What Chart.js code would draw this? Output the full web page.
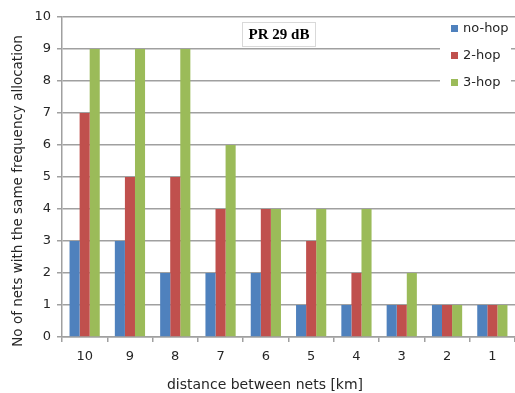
<!DOCTYPE html>
<html>
<head>
<meta charset="utf-8">
<script src="https://cdn.jsdelivr.net/npm/chart.js@4.4.0/dist/chart.umd.min.js"></script>
<style>
  html, body { margin: 0; padding: 0; background: #fff; }
  #wrap { width: 515px; height: 393px; }
</style>
</head>
<body>
<div id="wrap"><canvas id="chart" width="515" height="393"></canvas></div>
<script>
// --- data ---
const distances = ['10', '9', '8', '7', '6', '5', '4', '3', '2', '1'];
const noHop = [3, 3, 2, 2, 2, 1, 1, 1, 1, 1];
const twoHop = [7, 5, 5, 4, 4, 3, 2, 1, 1, 1];
const threeHop = [9, 9, 9, 6, 4, 4, 4, 2, 1, 1];
const seriesNames = ['no-hop', '2-hop', '3-hop'];
const seriesColors = ['#4f81bd', '#c0504d', '#9bbb59'];
const chartTitle = 'PR 29 dB';
const xTitle = 'distance between nets [km]';
const yTitle = 'No of nets with the same frequency allocation';

const gridColor = '#a0a0a0';
const textColor = '#262626';
const font = "'DejaVu Sans', sans-serif";

// title box, legend and axis titles (Excel places them off-centre)
const overlayPlugin = {
    id: 'overlay',
    afterDraw(chart) {
        const ctx = chart.ctx;
        ctx.save();

        // title box
        ctx.font = "bold 15px 'Liberation Serif', serif";
        ctx.fillStyle = '#fff';
        ctx.fillRect(242, 22, 74, 25);
        ctx.strokeStyle = '#d9d9d9';
        ctx.lineWidth = 1;
        ctx.strokeRect(242.5, 22.5, 73, 24);
        ctx.fillStyle = '#000';
        ctx.textAlign = 'center';
        ctx.textBaseline = 'middle';
        ctx.fillText(chartTitle, 279, 35);

        // legend
        ctx.fillStyle = '#fff';
        ctx.fillRect(440, 18, 71, 78);
        ctx.font = '13px ' + font;
        ctx.textAlign = 'left';
        chart.data.datasets.forEach((ds, i) => {
            const y = 29 + i * 27;
            ctx.fillStyle = ds.backgroundColor;
            ctx.fillRect(451, y - 4, 7, 7);
            ctx.fillStyle = textColor;
            ctx.fillText(ds.label, 463, y);
        });

        // axis titles
        ctx.fillStyle = textColor;
        ctx.textAlign = 'center';
        ctx.font = '14px ' + font;
        ctx.fillText(xTitle, 265, 385);
        ctx.translate(18, 191);
        ctx.rotate(-Math.PI / 2);
        ctx.font = '13.5px ' + font;
        ctx.fillText(yTitle, 0, 0);
        ctx.restore();
    }
};

const ctx = document.getElementById('chart').getContext('2d');
new Chart(ctx, {
    type: 'bar',
    data: {
        labels: distances,
        datasets: [noHop, twoHop, threeHop].map((vals, i) => ({
            label: seriesNames[i],
            data: vals,
            backgroundColor: seriesColors[i],
            borderWidth: 0,
            categoryPercentage: 0.667,
            barPercentage: 1.0
        }))
    },
    options: {
        responsive: false,
        animation: false,
        layout: { padding: { top: 17, right: 0, left: 0, bottom: 0 } },
        plugins: {
            legend: { display: false },
            tooltip: { enabled: false }
        },
        scales: {
            x: {
                grid: {
                    display: true,
                    drawOnChartArea: false,
                    drawTicks: true,
                    tickLength: 5,
                    offset: true,
                    color: gridColor,
                    lineWidth: 1.5
                },
                border: { color: gridColor, width: 1.5 },
                ticks: { color: textColor, font: { family: font, size: 13 }, padding: 7 },
                afterFit(scale) { scale.height = 56; }
            },
            y: {
                min: 0,
                max: 10,
                grid: { color: gridColor, lineWidth: 1.5, tickLength: 5 },
                border: { color: gridColor, width: 1.5 },
                ticks: { stepSize: 1, color: textColor, font: { family: font, size: 13 }, padding: 6 },
                afterFit(scale) { scale.width = 62; }
            }
        }
    },
    plugins: [overlayPlugin]
});
</script>
</body>
</html>
